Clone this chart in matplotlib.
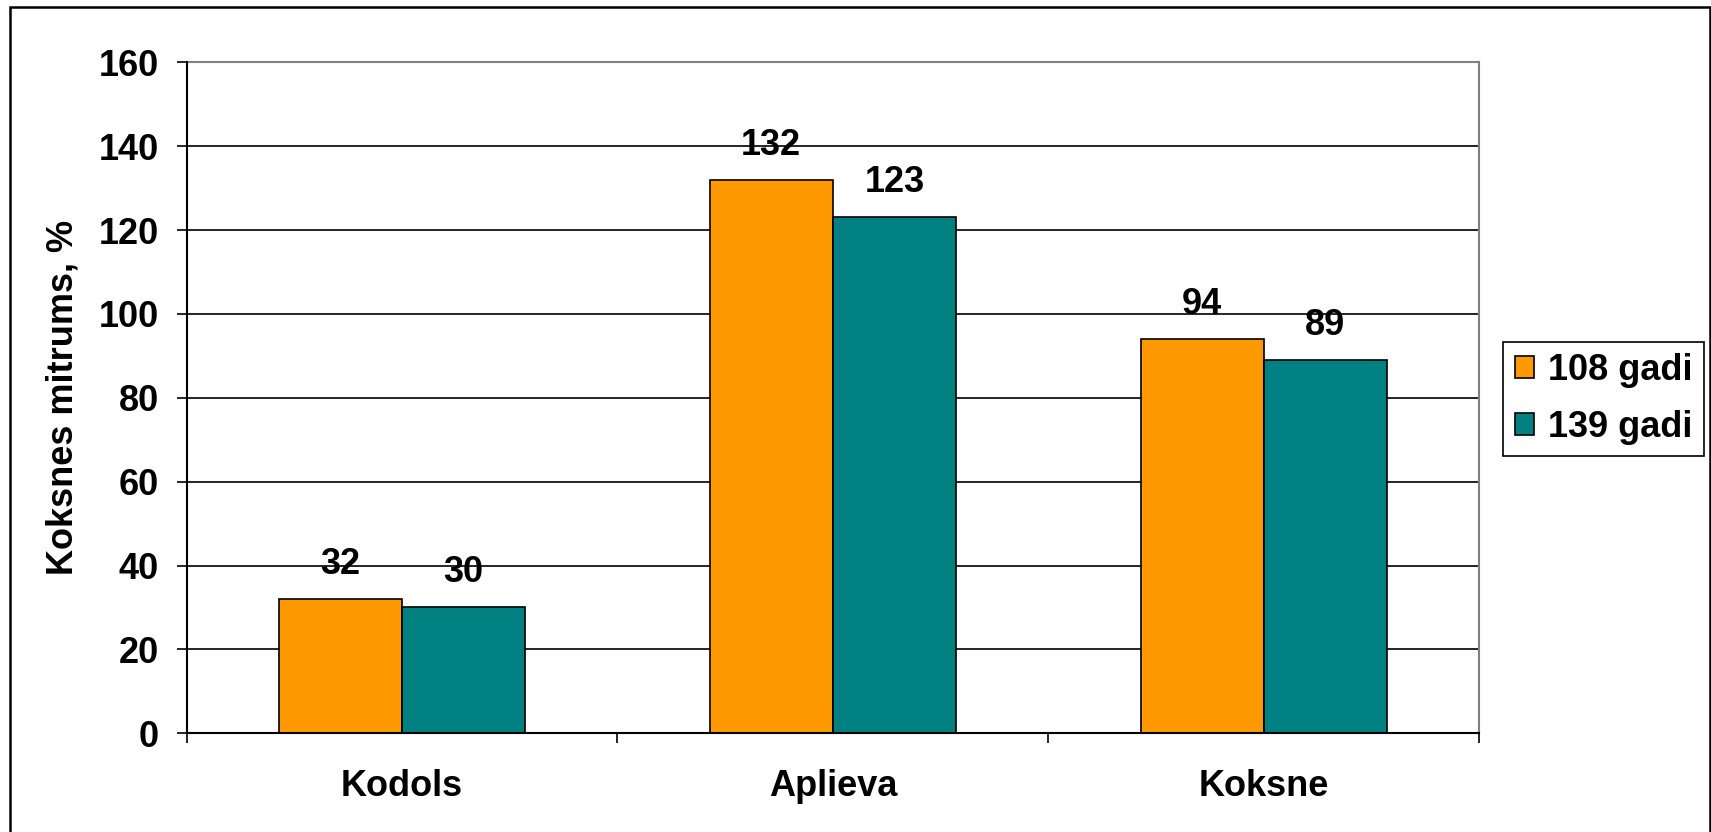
import matplotlib
matplotlib.use("Agg")
import matplotlib.pyplot as plt
from matplotlib.patches import Rectangle
import numpy as np

# Wood moisture content by stem zone for two stand ages
categories = ["Kodols", "Aplieva", "Koksne"]
series_names = ["108 gadi", "139 gadi"]
values_108 = [32, 132, 94]
values_139 = [30, 123, 89]
y_ticks = [0, 20, 40, 60, 80, 100, 120, 140, 160]
y_label = "Koksnes mitrums, %"

colors = ["#FF9900", "#008080"]

plt.rcParams["font.family"] = ["Liberation Sans", "DejaVu Sans"]
plt.rcParams["font.weight"] = "bold"
FS = 26

W, H = 1711, 832
fig = plt.figure(figsize=(W / 100, H / 100), dpi=100)

# plot area in pixel terms
left_px, right_px, top_px, bottom_px = 186.7, 1479.0, 62.3, 733.3
ax = fig.add_axes([left_px / W, 1 - bottom_px / H,
                   (right_px - left_px) / W, (bottom_px - top_px) / H])

x = np.arange(len(categories))
bw = 1 / 3.5  # two bars plus a 150% gap
series = [values_108, values_139]
for i, (vals, name, c) in enumerate(zip(series, series_names, colors)):
    pos = x + (i - 0.5) * bw
    ax.bar(pos, vals, width=bw, color=c, edgecolor="black",
           linewidth=1.2, label=name, zorder=3)
    for px, v in zip(pos, vals):
        ax.annotate(f"{v:d}", (px, v), xytext=(0, 25), textcoords="offset points",
                    ha="center", va="center", fontsize=FS, fontweight="bold",
                    zorder=5)

ax.set_xlim(-0.5, len(categories) - 0.5)
ax.set_ylim(y_ticks[0], y_ticks[-1])
ax.set_yticks(y_ticks)
ax.yaxis.grid(True, color="black", linewidth=1.2, zorder=0)
ax.set_axisbelow(True)

# category boundaries carry the tick marks, centres carry the labels
ax.set_xticks(np.arange(len(categories) + 1) - 0.5)
ax.set_xticklabels([])
ax.set_xticks(x, minor=True)
ax.set_xticklabels(categories, minor=True, fontsize=FS, fontweight="bold")
ax.tick_params(axis="x", which="major", length=7.2, width=1.2, color="black")
ax.tick_params(axis="x", which="minor", length=0, pad=26)
ax.tick_params(axis="y", length=7.2, width=1.2, pad=13, labelsize=FS)
for lab in ax.get_yticklabels():
    lab.set_fontweight("bold")

for s in ("left", "bottom"):
    ax.spines[s].set_color("black")
    ax.spines[s].set_linewidth(1.5)
    ax.spines[s].set_zorder(4)
for s in ("top", "right"):
    ax.spines[s].set_color("#808080")
    ax.spines[s].set_linewidth(1.5)

ax.set_ylabel(y_label, fontsize=FS, fontweight="bold")
ax.yaxis.set_label_coords((80 - left_px) / (right_px - left_px), 0.5)

leg = fig.legend(loc="upper left", bbox_to_anchor=(1503 / W, 1 - 341.5 / H),
                 bbox_transform=fig.transFigure, borderaxespad=0,
                 prop={"weight": "bold", "size": FS},
                 handlelength=0.55, handleheight=0.55, handletextpad=0.37,
                 borderpad=0.32, labelspacing=0.6, fancybox=False,
                 framealpha=1, edgecolor="black")
leg.get_frame().set_linewidth(1.2)

# outer chart border
fig.patches.append(Rectangle((9.5 / W, -0.05), (1709.5 - 9.5) / W, 1.05 - 6.7 / H,
                             transform=fig.transFigure, fill=False,
                             edgecolor="black", linewidth=1.8, zorder=10))

fig.savefig("out.png", dpi=100)
